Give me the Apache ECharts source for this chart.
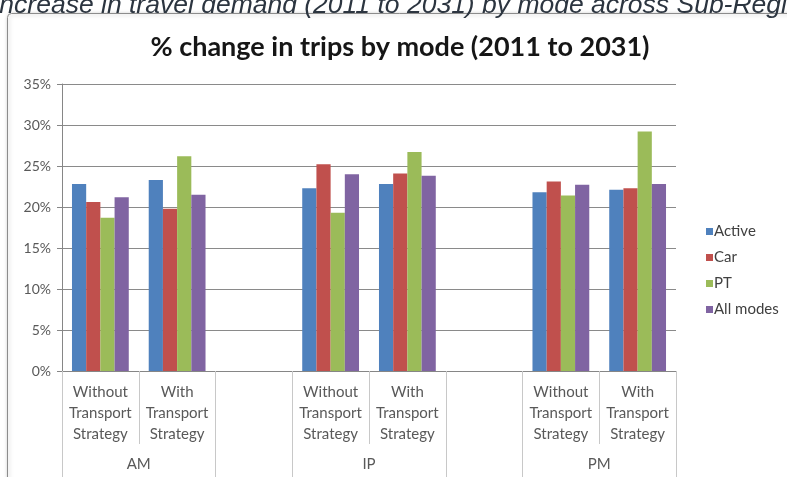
<!DOCTYPE html>
<html>
<head>
<meta charset="utf-8">
<script src="https://cdn.jsdelivr.net/npm/echarts@6/dist/echarts.min.js"></script>
<style>
  html, body { margin: 0; padding: 0; background: #fff; }
  #chart { width: 787px; height: 477px; }
</style>
</head>
<body>
<div id="chart"></div>
<script>
// sub categories (blank slots separate the time periods)
var categories = [
  'Without\nTransport\nStrategy', 'With\nTransport\nStrategy', '',
  'Without\nTransport\nStrategy', 'With\nTransport\nStrategy', '',
  'Without\nTransport\nStrategy', 'With\nTransport\nStrategy'
];
// outer groups: name and the slot span they cover
var groupNames = ['AM', 'IP', 'PM'];
var groupCentres = [1, 4, 7];
var groupEdges = [0, 2, 3, 5, 6, 8];

var active   = [22.8, 23.3, null, 22.3, 22.8, null, 21.8, 22.1];
var car      = [20.6, 19.8, null, 25.2, 24.1, null, 23.1, 22.3];
var pt       = [18.7, 26.2, null, 19.3, 26.7, null, 21.4, 29.2];
var allModes = [21.2, 21.5, null, 24.0, 23.8, null, 22.7, 22.8];

var yTicks = [0, 5, 10, 15, 20, 25, 30, 35];

var font = 'Lato, "Open Sans", sans-serif';
var chart = echarts.init(document.getElementById('chart'));

function bar(name, data) {
  return {
    name: name, type: 'bar', data: data,
    barGap: '0%', barCategoryGap: '26%'
  };
}

chart.setOption({
  animation: false,
  color: ['#4F81BD', '#C0504D', '#9BBB59', '#8064A2'],
  graphic: [
    {
      type: 'rect', left: 7, top: 13, z: -1,
      shape: { width: 800, height: 480, r: 4 },
      style: { fill: '#fff', stroke: '#8c8c8c', lineWidth: 1,
               shadowBlur: 4, shadowColor: 'rgba(0,0,0,0.25)', shadowOffsetX: 1, shadowOffsetY: 1 }
    },
    {
      type: 'text', left: -8, top: -8,
      style: { text: 'Increase in travel demand (2011 to 2031) by mode across Sub-Regions',
               font: 'italic 26.5px "Liberation Sans", Arial, sans-serif', fill: '#2c3540' }
    }
  ],
  title: {
    text: '% change in trips by mode (2011 to 2031)',
    left: 395, top: 29, textAlign: 'center',
    textStyle: { fontFamily: font, fontWeight: 'bold', fontSize: 27, color: '#161616' }
  },
  legend: {
    orient: 'vertical', left: 701, top: 219, itemGap: 11,
    itemWidth: 7, itemHeight: 7, icon: 'rect',
    textStyle: { fontFamily: font, fontSize: 15, color: '#404040', padding: [0, 0, 0, -4] },
    data: ['Active', 'Car', 'PT', 'All modes']
  },
  grid: { left: 62, right: 111, top: 84, bottom: 106, containLabel: false },
  xAxis: [
    {
      type: 'category', data: categories, position: 'bottom',
      axisLine: { lineStyle: { color: '#868686' } },
      axisTick: { show: true, interval: 0, length: 73, lineStyle: { color: '#c8c8c8' } },
      axisLabel: { interval: 0, margin: 11, fontFamily: font, fontSize: 15, lineHeight: 21,
                   color: '#595959' }
    },
    {
      type: 'value', min: 0, max: 8, position: 'bottom',
      axisLine: { show: false },
      splitLine: { show: false },
      axisTick: { show: true, customValues: groupEdges, length: 106,
                  lineStyle: { color: '#c8c8c8' } },
      axisLabel: {
        customValues: groupCentres, margin: 86, fontFamily: font, fontSize: 15, color: '#595959',
        formatter: function (v) { return groupNames[groupCentres.indexOf(v)] || ''; }
      }
    }
  ],
  yAxis: {
    type: 'value', min: 0, max: 35, interval: 5,
    axisLine: { show: true, lineStyle: { color: '#868686' } },
    axisTick: { show: true, length: 5, lineStyle: { color: '#868686' } },
    splitLine: { lineStyle: { color: '#8a8a8a' } },
    axisLabel: { margin: 11, fontFamily: font, fontSize: 14, color: '#595959',
                 formatter: function (v) { return yTicks.indexOf(v) >= 0 ? v + '%' : ''; } }
  },
  series: [
    bar('Active', active),
    bar('Car', car),
    bar('PT', pt),
    bar('All modes', allModes)
  ]
});
</script>
</body>
</html>
